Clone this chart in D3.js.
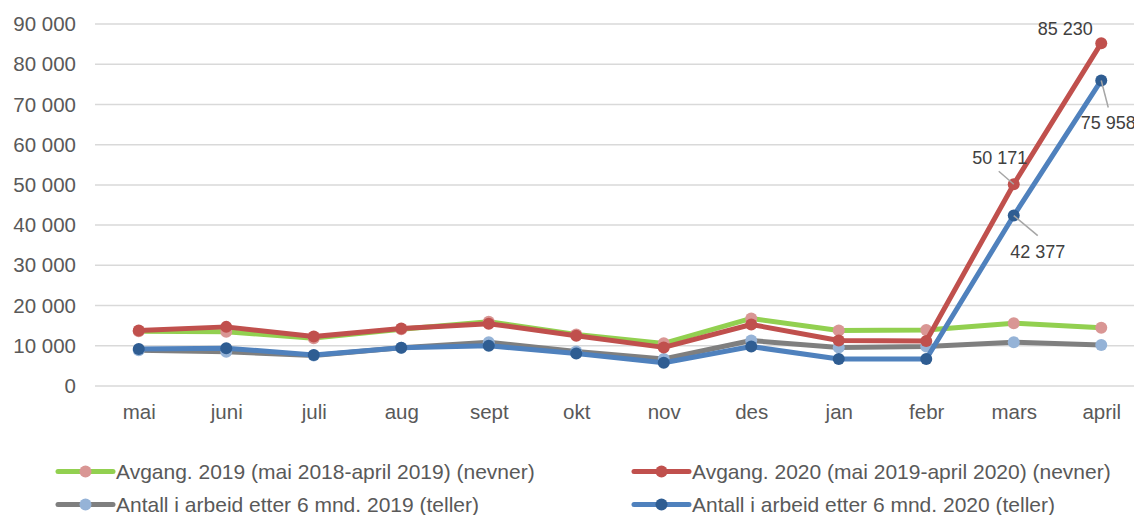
<!DOCTYPE html>
<html>
<head>
<meta charset="utf-8">
<script src="https://cdn.jsdelivr.net/npm/d3@7"></script>
<style>
  body { margin: 0; background: #fff; }
  svg { font-family: "Liberation Sans", Arial, sans-serif; }
</style>
</head>
<body>
<script>
// Chart dimension
const width = 1134;
const height = 515;

// Data
const months = ["mai", "juni", "juli", "aug", "sept", "okt", "nov", "des", "jan", "febr", "mars", "april"];
const avgang2019 = [13600, 13500, 11900, 14100, 16000, 12800, 10600, 16800, 13800, 13900, 15600, 14500];
const avgang2020 = [13800, 14700, 12300, 14300, 15500, 12500, 9600, 15300, 11300, 11200, 50171, 85230];
const arbeid2019 = [8900, 8500, 7600, 9500, 10900, 8600, 6700, 11300, 9600, 9800, 10900, 10200];
const arbeid2020 = [9200, 9400, 7700, 9500, 10000, 8100, 5800, 9800, 6700, 6700, 42377, 75958];
const yTicks = [0, 10000, 20000, 30000, 40000, 50000, 60000, 70000, 80000, 90000];
const legendNames = [
    "Avgang. 2019 (mai 2018-april 2019) (nevner)",
    "Avgang. 2020 (mai 2019-april 2020) (nevner)",
    "Antall i arbeid etter 6 mnd. 2019 (teller)",
    "Antall i arbeid etter 6 mnd. 2020 (teller)"
];

const series = [
    { name: legendNames[0], values: avgang2019, line: "#92d050", marker: "#d99694" },
    { name: legendNames[2], values: arbeid2019, line: "#7f7f7f", marker: "#95b3d7" },
    { name: legendNames[1], values: avgang2020, line: "#c0504d", marker: "#c0504d" },
    { name: legendNames[3], values: arbeid2020, line: "#4f81bd", marker: "#2f5d92" }
];

const fmt = v => d3.format(",")(v).replace(/,/g, " ");

const svg = d3.select("body")
    .append("svg")
    .attr("width", width)
    .attr("height", height);

// Scales
const x = d3.scalePoint()
    .domain(months)
    .range([95, 1145])
    .padding(0.5);

const y = d3.scaleLinear()
    .domain([0, 90000])
    .range([386, 24]);

// Gridlines
svg.append("g")
    .selectAll("line")
    .data(yTicks)
    .enter()
    .append("line")
    .attr("x1", 95)
    .attr("x2", width)
    .attr("y1", d => y(d))
    .attr("y2", d => y(d))
    .attr("stroke", "#d9d9d9")
    .attr("stroke-width", 1.5);

// Y axis labels
const yAxis = d3.axisLeft(y).tickValues(yTicks).tickFormat(fmt).tickSize(0).tickPadding(0);
const yG = svg.append("g")
    .attr("transform", "translate(76,0)")
    .call(yAxis);
yG.select(".domain").remove();
yG.selectAll("text")
    .attr("fill", "#595959")
    .style("font-size", "20.5px")
    .style("font-family", "'Liberation Sans', Arial, sans-serif");

// X axis labels
const xAxis = d3.axisBottom(x).tickSize(0).tickPadding(0);
const xG = svg.append("g")
    .attr("transform", "translate(0,419)")
    .call(xAxis);
xG.select(".domain").remove();
xG.selectAll("text")
    .attr("fill", "#595959")
    .attr("y", 0)
    .attr("dy", 0)
    .style("font-size", "20.5px")
    .style("font-family", "'Liberation Sans', Arial, sans-serif");

// Lines and markers
const line = d3.line()
    .x((d, i) => x(months[i]))
    .y(d => y(d));

series.forEach(s => {
    svg.append("path")
        .datum(s.values)
        .attr("fill", "none")
        .attr("stroke", s.line)
        .attr("stroke-width", 5)
        .attr("stroke-linejoin", "round")
        .attr("d", line);

    svg.append("g")
        .selectAll("circle")
        .data(s.values)
        .enter()
        .append("circle")
        .attr("cx", (d, i) => x(months[i]))
        .attr("cy", d => y(d))
        .attr("r", 6)
        .attr("fill", s.marker);
});

// Data labels with leader lines
const labels = [
    { values: avgang2020, i: 11, dx: -36, dy: -14, leader: false },
    { values: arbeid2020, i: 11, dx: 7, dy: 42, leader: true, lx: 7, ly: 27 },
    { values: avgang2020, i: 10, dx: -14, dy: -27, leader: true, lx: -15, ly: -13 },
    { values: arbeid2020, i: 10, dx: 24, dy: 36, leader: true, lx: 24, ly: 20 }
];

labels.forEach(l => {
    const px = x(months[l.i]);
    const py = y(l.values[l.i]);
    if (l.leader) {
        svg.append("line")
            .attr("x1", px)
            .attr("y1", py)
            .attr("x2", px + l.lx)
            .attr("y2", py + l.ly)
            .attr("stroke", "#a6a6a6")
            .attr("stroke-width", 1.5);
    }
    svg.append("text")
        .attr("x", px + l.dx)
        .attr("y", py + l.dy)
        .attr("text-anchor", "middle")
        .attr("dy", "0.35em")
        .attr("fill", "#404040")
        .style("font-size", "18px")
        .text(fmt(l.values[l.i]));
});

// Legend
const legendItems = [
    { s: series[0], x: 58, y: 471.5 },
    { s: series[2], x: 634, y: 471.5 },
    { s: series[1], x: 58, y: 504.5 },
    { s: series[3], x: 634, y: 504.5 }
];

const legend = svg.append("g");
legendItems.forEach(item => {
    const g = legend.append("g").attr("transform", `translate(${item.x},${item.y})`);
    g.append("line")
        .attr("x1", 0)
        .attr("x2", 55)
        .attr("stroke", item.s.line)
        .attr("stroke-width", 5)
        .attr("stroke-linecap", "round");
    g.append("circle")
        .attr("cx", 27.5)
        .attr("r", 6)
        .attr("fill", item.s.marker);
    g.append("text")
        .attr("x", 58)
        .attr("dy", "0.35em")
        .attr("fill", "#595959")
        .style("font-size", "21px")
        .text(item.s.name);
});
</script>
</body>
</html>
